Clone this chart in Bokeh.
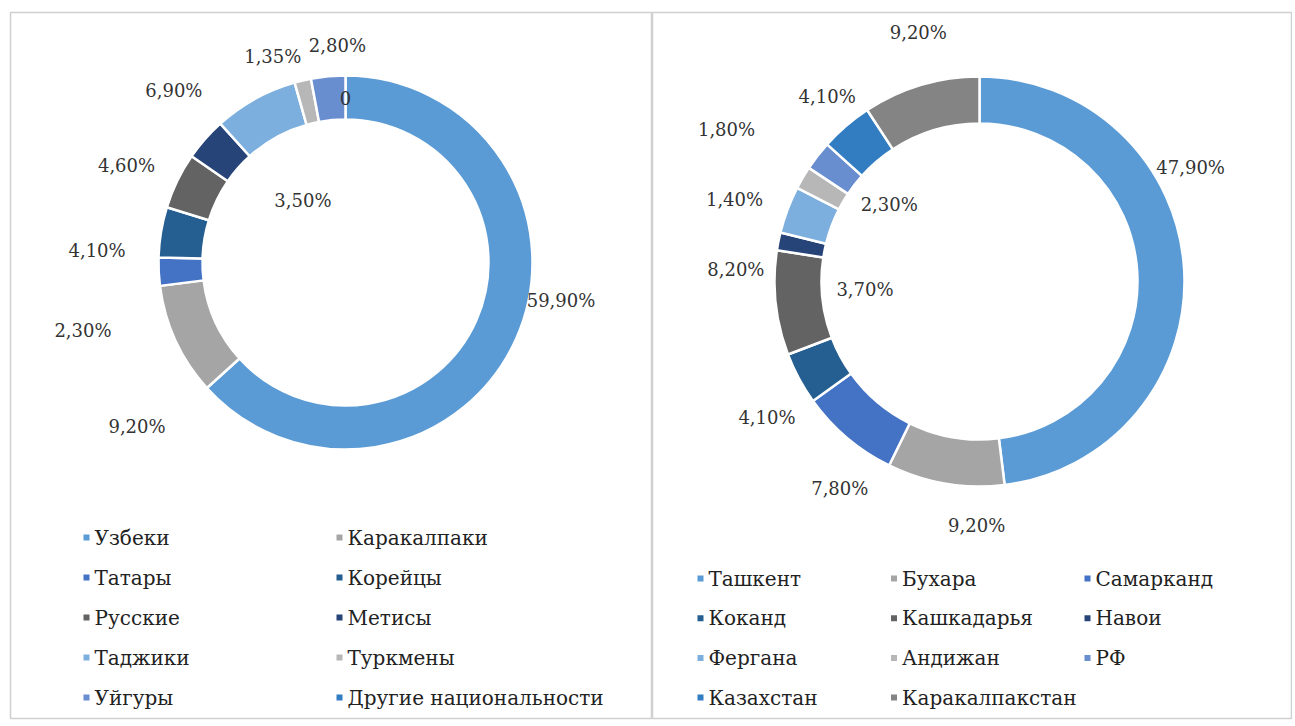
import math
from bokeh.plotting import figure
from bokeh.models import Range1d, ColumnDataSource
from bokeh.layouts import row
from bokeh.core.properties import value
from bokeh.embed import file_html
from bokeh.resources import INLINE

# ---------------- data ----------------
nat_names = ["Узбеки", "Каракалпаки", "Татары", "Корейцы", "Русские",
             "Метисы", "Таджики", "Туркмены", "Уйгуры", "Другие национальности"]
nat_values = [59.9, 9.2, 2.3, 4.1, 4.6, 3.5, 6.9, 1.35, 2.8, 0.0]

reg_names = ["Ташкент", "Бухара", "Самарканд", "Коканд", "Кашкадарья", "Навои",
             "Фергана", "Андижан", "РФ", "Казахстан", "Каракалпакстан"]
reg_values = [47.9, 9.2, 7.8, 4.1, 8.2, 1.4, 3.7, 1.8, 2.3, 4.1, 9.2]

# ---------------- styles / layout ----------------
palette = ["#5B9BD5", "#A5A5A5", "#4472C4", "#255E91", "#636363", "#264478",
           "#7CAFDD", "#B7B7B7", "#698ED0", "#327DC2", "#848484"]

# label placement: angle nudge (deg) from slice middle and radius factor (x outer radius)
nat_lab_nudge = [-14, -13.6, -11.7, -6.7, -2.1, 14, -16, -6.2, 3.2, 0]
nat_lab_rf = [1.17, 1.42, 1.45, 1.33, 1.28, 0.40, 1.30, 1.17, 1.16, 0.88]
reg_lab_nudge = [-24.8, -8.9, -6.3, -4.3, 8.9, 7.2, -24.5, 0.6, 2.8, 1.2, 2.8]
reg_lab_rf = [1.17, 1.19, 1.22, 1.23, 1.19, 1.26, 0.56, 1.44, 0.58, 1.17, 1.25]

SERIF = value("DejaVu Serif")
LABEL_COLOR = "#333333"
HEIGHT = 720
TOP = 12
BOTTOM = 2


def fmt(v):
    if v == 0:
        return "0"
    return ("%.2f%%" % v).replace(".", ",")


def make_panel(px0, width, lb, names, values, nudges, rfs, cx, cy, r_out, r_in,
               leg_origin, leg_dx, leg_dy, ncols):
    p = figure(width=width, height=HEIGHT, output_backend="svg",
               toolbar_location=None, min_border_left=lb,
               min_border_top=TOP, min_border_right=0, min_border_bottom=BOTTOM,
               x_range=Range1d(px0 + lb, px0 + width),
               y_range=Range1d(-(HEIGHT - BOTTOM), -TOP))
    p.axis.visible = False
    p.grid.visible = False
    p.outline_line_color = "#d0d0d0"
    p.outline_line_width = 1.5
    p.background_fill_color = "white"
    p.border_fill_color = "white"

    total = sum(values)
    starts, ends, mids = [], [], []
    acc = 0.0
    for v in values:
        a0 = acc / total * 360.0
        acc += v
        a1 = acc / total * 360.0
        starts.append(a0)
        ends.append(a1)
        mids.append((a0 + a1) / 2)

    idx = [i for i, v in enumerate(values) if v > 0]
    src = ColumnDataSource(dict(
        x=[cx] * len(idx), y=[-cy] * len(idx),
        start=[math.pi / 2 - math.radians(starts[i]) for i in idx],
        end=[math.pi / 2 - math.radians(ends[i]) for i in idx],
        color=[palette[i] for i in idx],
        name=[names[i] for i in idx]))
    p.annular_wedge(x="x", y="y", inner_radius=r_in, outer_radius=r_out,
                    start_angle="start", end_angle="end", direction="clock",
                    fill_color="color", line_color="white", line_width=2.5,
                    source=src)

    # data labels
    lx, ly, lt = [], [], []
    for i, v in enumerate(values):
        th = math.radians(mids[i] + nudges[i])
        r = rfs[i] * r_out
        lx.append(cx + r * math.sin(th))
        ly.append(-(cy - r * math.cos(th)))
        lt.append(fmt(v))
    p.text(x=lx, y=ly, text=lt, text_font=SERIF, text_font_size="18px",
           text_align="center", text_baseline="middle", text_color=LABEL_COLOR)

    # legend
    mx, my, tx = [], [], []
    for i, nm in enumerate(names):
        c = i % ncols
        rr = i // ncols
        mx.append(leg_origin[0] + c * leg_dx)
        my.append(-(leg_origin[1] + rr * leg_dy))
        tx.append(leg_origin[0] + c * leg_dx + 8)
    p.scatter(x=mx, y=my, marker="square", size=6,
              fill_color=palette[:len(names)], line_color=None)
    p.text(x=tx, y=my, text=names, text_font=SERIF, text_font_size="20px",
           text_align="left", text_baseline="middle", text_color="#222222")
    return p


left = make_panel(0, 652, 10, nat_names, nat_values, nat_lab_nudge, nat_lab_rf,
                  345, 262, 187, 143, (86, 537), 253, 40, 2)
right = make_panel(652, 640, 0, reg_names, reg_values, reg_lab_nudge, reg_lab_rf,
                   979, 281, 205, 158, (700, 578), 193.5, 39.7, 3)

layout = row(left, right)
open("out.html", "w").write(file_html(layout, INLINE))
